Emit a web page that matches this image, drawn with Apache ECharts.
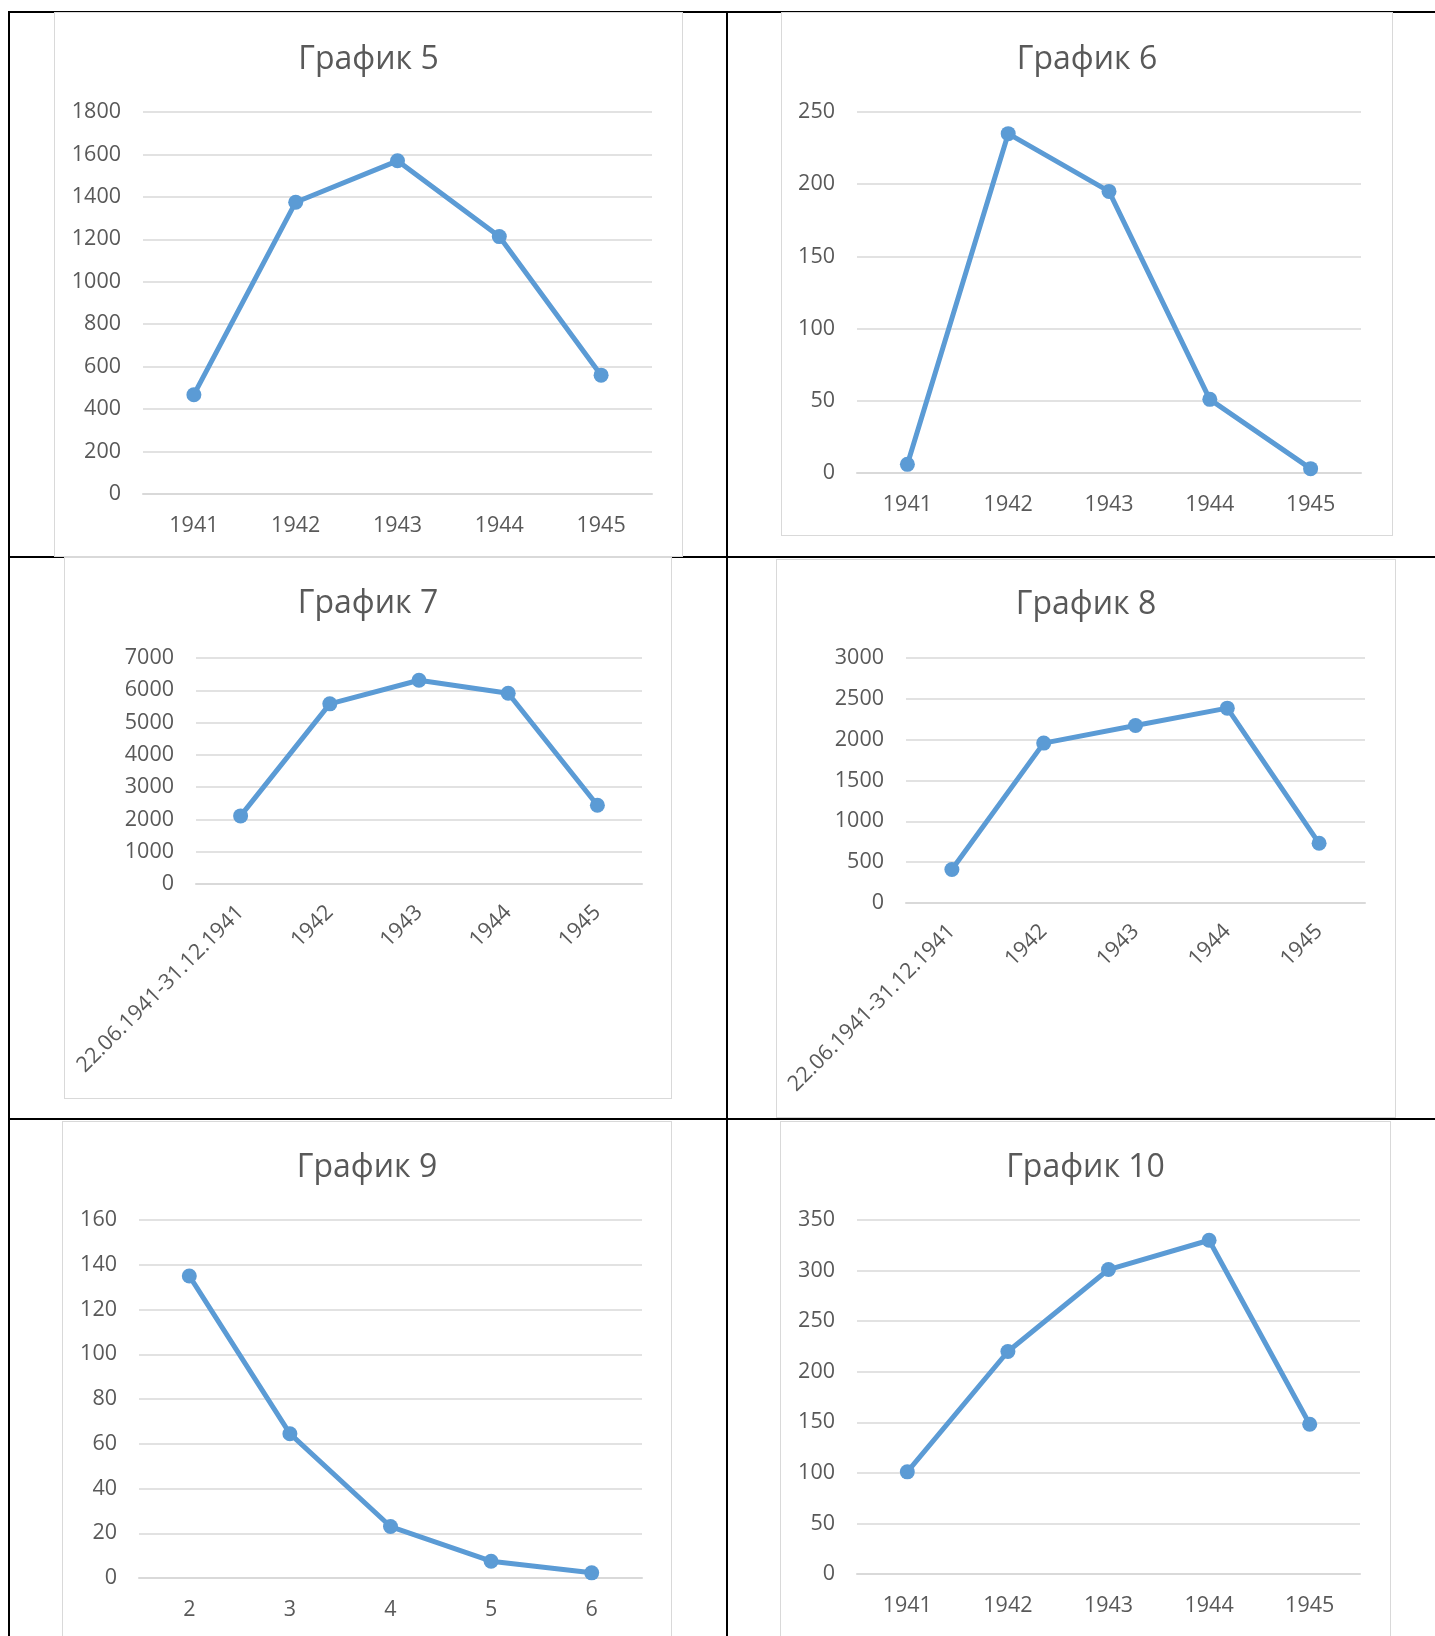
<!DOCTYPE html>
<html>
<head>
<meta charset="utf-8">
<script src="https://cdn.jsdelivr.net/npm/echarts@6/dist/echarts.min.js"></script>
<style>
  html, body { margin: 0; padding: 0; background: #fff; width: 1435px; height: 1636px; overflow: hidden; }
  .rule { position: absolute; background: #000; }
  .box { position: absolute; border: 1px solid #d9d9d9; box-sizing: border-box; background: #fff; }
</style>
</head>
<body>
<div class="rule" style="left:8px; top:11px; width:1427px; height:2px;"></div>
<div class="rule" style="left:8px; top:11px; width:2px; height:1625px;"></div>
<div class="rule" style="left:726px; top:11px; width:2px; height:1625px;"></div>
<div class="rule" style="left:8px; top:556px; width:1427px; height:2px;"></div>
<div class="rule" style="left:8px; top:1118px; width:1427px; height:2px;"></div>

<div id="c5" class="box" style="left:54px; top:12px; width:629px; height:545px;"></div>
<div id="c6" class="box" style="left:781px; top:12px; width:612px; height:524px;"></div>
<div id="c7" class="box" style="left:64px; top:557px; width:608px; height:542px;"></div>
<div id="c8" class="box" style="left:776px; top:559px; width:620px; height:559px;"></div>
<div id="c9" class="box" style="left:62px; top:1121px; width:610px; height:540px;"></div>
<div id="c10" class="box" style="left:780px; top:1121px; width:611px; height:540px;"></div>

<script>
// ---- data ----
const yearCats = ['1941', '1942', '1943', '1944', '1945'];
const periodCats = ['22.06.1941-31.12.1941', '1942', '1943', '1944', '1945'];
const numCats = ['2', '3', '4', '5', '6'];

const values5 = [468, 1375, 1570, 1213, 560];
const values6 = [6, 235, 195, 51, 3];
const values7 = [2110, 5580, 6310, 5910, 2440];
const values8 = [410, 1958, 2174, 2386, 731];
const values9 = [135, 64.5, 23, 7.5, 2.3];
const values10 = [101, 220, 301, 330, 148];

const titles = ['График 5', 'График 6', 'График 7', 'График 8', 'График 9', 'График 10'];

// ---- styling ----
const FONT = '"Open Sans", "Noto Sans", sans-serif';
const TEXT = '#595959';
const GRID = '#d9d9d9';
const BLUE = '#5b9bd5';

function makeChart(id, title, cats, vals, yMax, yStep, grid, titleTop, rotate) {
  const chart = echarts.init(document.getElementById(id), null, { renderer: 'canvas' });
  chart.setOption({
    animation: false,
    title: {
      text: title,
      left: 'center',
      top: titleTop,
      padding: 0,
      textStyle: { fontFamily: FONT, fontSize: 32, fontWeight: 'normal', color: TEXT }
    },
    grid: grid,
    xAxis: {
      type: 'category',
      data: cats,
      boundaryGap: true,
      axisLine: { show: true, lineStyle: { color: GRID, width: 2 } },
      axisTick: { show: false },
      axisLabel: {
        fontFamily: FONT, fontSize: 21.5, color: TEXT,
        margin: rotate ? 25 : 21,
        rotate: rotate ? 45 : 0,
        interval: 0
      }
    },
    yAxis: {
      type: 'value',
      min: 0,
      max: yMax,
      interval: yStep,
      axisLine: { show: false },
      axisTick: { show: false },
      splitLine: { show: true, lineStyle: { color: GRID, width: 1.5 } },
      axisLabel: {
        fontFamily: FONT, fontSize: 21.5, color: TEXT, margin: 22,
        formatter: function (v) { return String(v); }
      }
    },
    series: [{
      type: 'line',
      data: vals,
      symbol: 'circle',
      symbolSize: 15,
      lineStyle: { color: BLUE, width: 5 },
      itemStyle: { color: BLUE }
    }]
  });
}

makeChart('c5', titles[0], yearCats, values5, 1800, 200, { left: 88, right: 30, top: 99, bottom: 62 }, 31, false);
makeChart('c6', titles[1], yearCats, values6, 250, 50, { left: 75, right: 31, top: 99, bottom: 62 }, 31, false);
makeChart('c7', titles[2], periodCats, values7, 7000, 1000, { left: 131, right: 29, top: 100, bottom: 214 }, 30, true);
makeChart('c8', titles[3], periodCats, values8, 3000, 500, { left: 129, right: 30, top: 98, bottom: 214 }, 29, true);
makeChart('c9', titles[4], numCats, values9, 160, 20, { left: 76, right: 29, top: 98, bottom: 82 }, 30, false);
makeChart('c10', titles[5], yearCats, values10, 350, 50, { left: 76, right: 30, top: 98, bottom: 86 }, 30, false);
</script>
</body>
</html>
